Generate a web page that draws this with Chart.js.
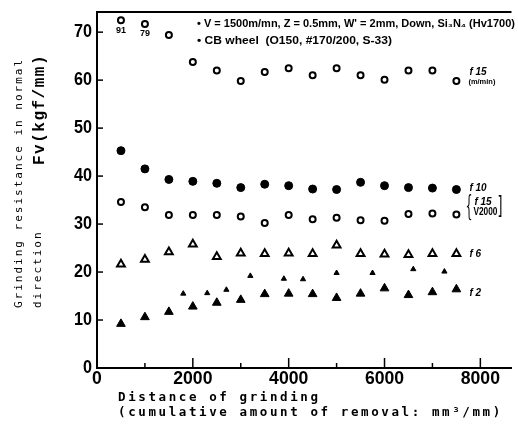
<!DOCTYPE html>
<html>
<head>
<meta charset="utf-8">
<script src="https://cdn.jsdelivr.net/npm/chart.js@4/dist/chart.umd.min.js"></script>
<style>
  html, body { margin: 0; padding: 0; background: #fff; }
  #wrap { width: 518px; height: 434px; }
</style>
</head>
<body>
<div id="wrap"><canvas id="fvChart" width="518" height="434"></canvas></div>
<script>
// DATA
const distance = [500, 1000, 1500, 2000, 2500, 3000, 3500, 4000, 4500, 5000, 5500, 6000, 6500, 7000, 7500];
const f15 = [72.5, 71.7, 69.4, 63.8, 62.0, 59.8, 61.7, 62.5, 61.0, 62.5, 61.0, 60.1, 62.0, 62.0, 59.8];
const f10 = [45.3, 41.5, 39.3, 38.9, 38.5, 37.6, 38.3, 38.0, 37.3, 37.2, 38.7, 38.0, 37.6, 37.5, 37.2];
const f15v2000 = [34.6, 33.5, 31.9, 31.9, 31.9, 31.6, 30.2, 31.9, 31.0, 31.3, 30.8, 30.7, 32.1, 32.2, 32.0];
const f6 = [21.6, 22.6, 24.2, 25.8, 23.2, 23.9, 23.8, 23.9, 23.8, 25.6, 23.8, 23.7, 23.6, 23.8, 23.8];
const f2 = [9.2, 10.6, 11.7, 12.8, 13.6, 14.2, 15.4, 15.5, 15.4, 14.6, 15.5, 16.6, 15.2, 15.8, 16.4];
const smallX = [1800, 2300, 2700, 3200, 3900, 4300, 5000, 5750, 6600, 7250];
const smallY = [15.5, 15.6, 16.3, 19.2, 18.6, 18.5, 19.8, 19.8, 20.6, 20.1];
const offScale = ['91', '79'];   // printed under the first two f15 points

const xTicks = [0, 1000, 2000, 3000, 4000, 5000, 6000, 7000, 8000];
const xLabels = ['0', '', '2000', '', '4000', '', '6000', '', '8000'];
const yTicks = [0, 10, 20, 30, 40, 50, 60, 70];
const yLabels = ['0', '10', '20', '30', '40', '50', '60', '70'];

const pts = (xs, ys) => xs.map((x, i) => ({ x: x, y: ys[i] }));
const SANS = '"Liberation Sans", Arial, sans-serif';
const MONO = '"DejaVu Sans Mono", "Liberation Mono", monospace';

function openMark(style, r) {
    return { pointStyle: style, pointRadius: r, borderWidth: 2, borderColor: '#000', backgroundColor: '#fff' };
}
function fullMark(style, r) {
    return { pointStyle: style, pointRadius: r, borderWidth: 1, borderColor: '#000', backgroundColor: '#000' };
}

// text squeezed to a given width (the scan uses a condensed face)
function fitText(ctx, str, x, y, w) {
    const m = ctx.measureText(str).width;
    ctx.save();
    ctx.translate(x, y);
    ctx.scale(w / m, 1);
    ctx.fillText(str, 0, 0);
    ctx.restore();
}

const extras = {
    id: 'extras',
    afterDraw(chart) {
        const ctx = chart.ctx;
        const xs = chart.scales.x, ys = chart.scales.y;
        const area = chart.chartArea;
        ctx.save();
        ctx.strokeStyle = '#000';
        ctx.fillStyle = '#000';

        // top frame line
        ctx.lineWidth = 2;
        ctx.beginPath();
        ctx.moveTo(area.left, area.top);
        ctx.lineTo(area.right, area.top);
        ctx.stroke();

        // inward tick marks
        ctx.lineWidth = 1.5;
        xTicks.forEach(v => {
            const px = xs.getPixelForValue(v);
            const len = v % 2000 === 0 ? 10 : 5;
            ctx.beginPath();
            ctx.moveTo(px, area.bottom);
            ctx.lineTo(px, area.bottom - len);
            ctx.stroke();
        });
        yTicks.forEach(v => {
            const py = ys.getPixelForValue(v);
            ctx.beginPath();
            ctx.moveTo(area.left, py);
            ctx.lineTo(area.left + 6, py);
            ctx.stroke();
        });

        // tick labels, condensed bold digits
        ctx.font = 'bold 19px ' + SANS;
        ctx.textBaseline = 'middle';
        ctx.textAlign = 'left';
        xTicks.forEach((v, i) => {
            const s = xLabels[i];
            if (!s) return;
            const w = 9.8 * s.length;
            fitText(ctx, s, xs.getPixelForValue(v) - w / 2, area.bottom + 11, w);
        });
        yTicks.forEach((v, i) => {
            const s = yLabels[i];
            const w = 9 * s.length;
            fitText(ctx, s, area.left - 5 - w, ys.getPixelForValue(v), w);
        });

        // legend notes
        ctx.font = 'bold 10px ' + SANS;
        fitText(ctx, '\u2022 V = 1500m/mn, Z = 0.5mm, W\' = 2mm, Down, Si\u2083N\u2084 (Hv1700)', 197, 24, 318);
        fitText(ctx, '\u2022 CB wheel  (O150, #170/200, S-33)', 197, 41, 195);

        // off-scale values
        ctx.textAlign = 'center';
        ctx.font = 'bold 9px ' + SANS;
        offScale.forEach((s, i) => {
            ctx.fillText(s, xs.getPixelForValue(distance[i]), ys.getPixelForValue(f15[i]) + 10);
        });

        // series labels at the right end
        const last = distance.length - 1;
        const lx = xs.getPixelForValue(distance[last]) + 13;
        ctx.textAlign = 'left';
        ctx.font = 'italic bold 10px ' + SANS;
        let py = ys.getPixelForValue(f15[last]);
        ctx.fillText('f 15', lx, py - 9);
        ctx.font = 'bold 8px ' + SANS;
        fitText(ctx, '(m/min)', lx - 1, py + 1, 27);
        ctx.font = 'italic bold 10px ' + SANS;
        ctx.fillText('f 10', lx, ys.getPixelForValue(f10[last]) - 1);
        py = ys.getPixelForValue(f15v2000[last]);
        ctx.fillText('f 15', lx + 5, py - 12);
        ctx.font = 'bold 10px ' + SANS;
        fitText(ctx, 'V2000', lx + 4, py - 2, 24);
        ctx.font = '28px "DejaVu Serif", serif';
        fitText(ctx, '{', lx - 4, py - 7, 7);
        ctx.font = '24px "DejaVu Sans", sans-serif';
        fitText(ctx, ']', lx + 28, py - 7, 5);
        ctx.font = 'italic bold 10px ' + SANS;
        ctx.fillText('f 6', lx, ys.getPixelForValue(f6[last]));
        ctx.fillText('f 2', lx, ys.getPixelForValue(f2[last]) + 4);

        // axis titles
        ctx.letterSpacing = '2.6px';
        ctx.font = 'bold 12.5px ' + MONO;
        ctx.fillText('Distance of grinding', 118, 398);
        ctx.fillText('(cumulative amount of removal: mm\u00b3/mm)', 118, 413);

        ctx.save();
        ctx.translate(19, 308);
        ctx.rotate(-Math.PI / 2);
        ctx.letterSpacing = '2px';
        ctx.font = '11px ' + MONO;
        ctx.fillText('Grinding resistance in normal', 0, 0);
        ctx.restore();

        ctx.save();
        ctx.translate(38, 308);
        ctx.rotate(-Math.PI / 2);
        ctx.letterSpacing = '2px';
        ctx.font = '11px ' + MONO;
        ctx.fillText('direction', 0, 0);
        ctx.font = 'bold 16px "Liberation Mono", monospace';
        ctx.letterSpacing = '1.5px';
        ctx.fillText('Fv(kgf/mm)', 143, 2);
        ctx.restore();

        ctx.restore();
    }
};

const ctx = document.getElementById('fvChart');

new Chart(ctx, {
    type: 'scatter',
    data: {
        datasets: [
            Object.assign({ data: pts(distance, f15) }, openMark('circle', 3)),
            Object.assign({ data: pts(distance, f10) }, fullMark('circle', 4)),
            Object.assign({ data: pts(distance, f15v2000) }, openMark('circle', 3)),
            Object.assign({ data: pts(distance, f6) }, openMark('triangle', 4.5)),
            Object.assign({ data: pts(distance, f2) }, fullMark('triangle', 5)),
            Object.assign({ data: pts(smallX, smallY) }, fullMark('triangle', 3))
        ]
    },
    options: {
        responsive: false,
        animation: false,
        devicePixelRatio: 1,
        layout: { padding: { top: 12, right: 2, left: 0, bottom: 0 } },
        plugins: {
            legend: { display: false },
            tooltip: { enabled: false }
        },
        scales: {
            x: {
                type: 'linear',
                min: 0,
                max: 8650,
                afterBuildTicks: s => { s.ticks = xTicks.map(v => ({ value: v })); },
                afterFit: s => { s.height = 66; },
                grid: { display: false },
                border: { display: true, color: '#000', width: 2 },
                ticks: { display: false }
            },
            y: {
                min: 0,
                max: 74.2,
                afterBuildTicks: s => { s.ticks = yTicks.map(v => ({ value: v })); },
                afterFit: s => { s.width = 97; },
                grid: { display: false },
                border: { display: true, color: '#000', width: 2 },
                ticks: { display: false }
            }
        }
    },
    plugins: [extras]
});
</script>
</body>
</html>
